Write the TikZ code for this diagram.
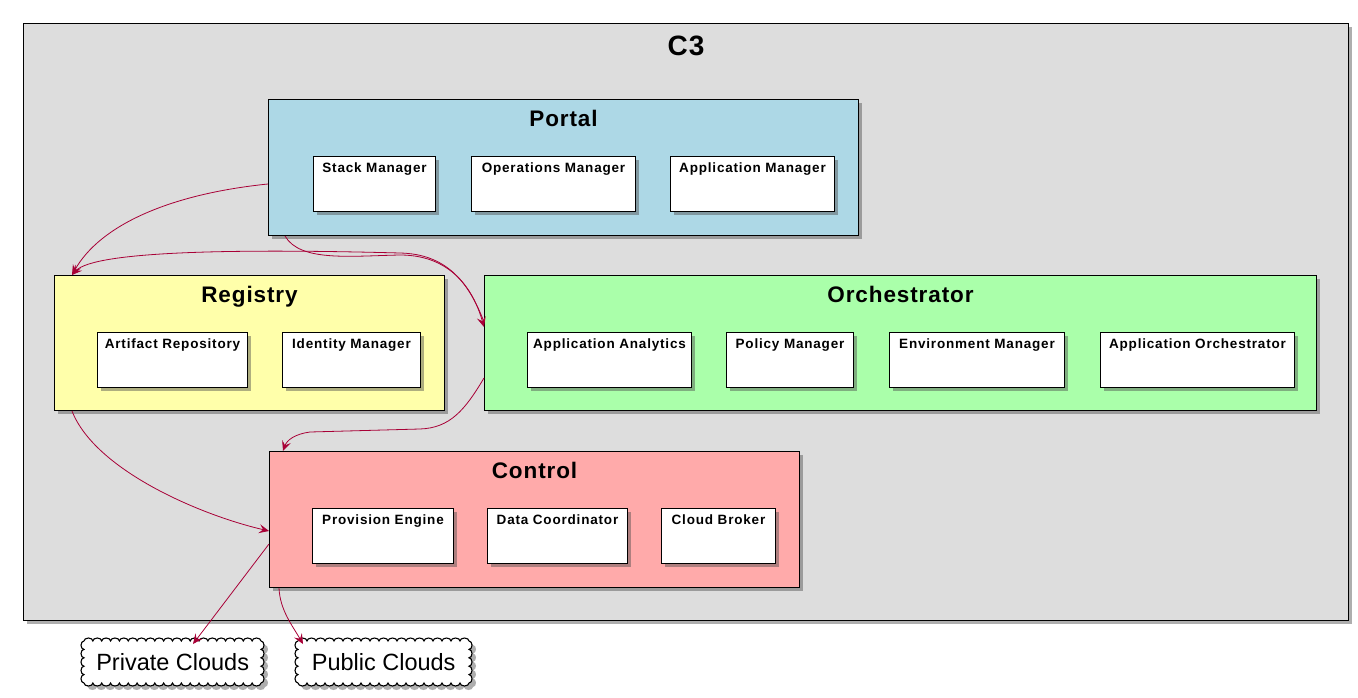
\documentclass[tikz,border=0pt]{standalone}
\usepackage{fontspec}
\setmainfont{Liberation Sans}
\newfontfamily\spacedfont[LetterSpace=6]{Liberation Sans}
\newfontfamily\titlefont[LetterSpace=4]{Liberation Sans}
\usetikzlibrary{shadows,arrows.meta,calc}
\definecolor{c3fill}{HTML}{DDDDDD}
\definecolor{portalfill}{HTML}{ADD8E6}
\definecolor{regfill}{HTML}{FFFFAA}
\definecolor{orchfill}{HTML}{AAFFAA}
\definecolor{ctrlfill}{HTML}{FFAAAA}
\definecolor{arrowred}{HTML}{A80036}
\newcommand\cloudoutline[4]{%
  \path[#4] (#1.north west)
    foreach \i in {1,...,#2}{ arc[start angle=180,end angle=0,x radius=#3,y radius=3pt] }
    foreach \i in {1,...,5}{ arc[start angle=90,end angle=-90,x radius=3pt,y radius=4.2pt] }
    foreach \i in {1,...,#2}{ arc[start angle=0,end angle=-180,x radius=#3,y radius=3pt] }
    foreach \i in {1,...,5}{ arc[start angle=-90,end angle=-270,x radius=3pt,y radius=4.2pt] } -- cycle;}
\begin{document}
\begin{tikzpicture}[x=1pt,y=-1pt,
  shad/.style={drop shadow={shadow xshift=3.5pt,shadow yshift=-3.5pt,fill=black!70,opacity=0.45}},
  pkg/.style={draw=black,line width=1pt,shad,anchor=north west,inner sep=0pt},
  comp/.style={draw=black,fill=white,line width=1pt,shad,anchor=north west,inner sep=0pt,minimum height=55pt,
    label={[anchor=north,yshift=-6.5pt,inner sep=0pt,font=\spacedfont\bfseries\fontsize{13.5}{15}\selectfont]north:#1}},
  pkgtitle/.style={anchor=north,inner sep=0pt,font=\titlefont\bfseries\fontsize{22.5}{26}\selectfont},
  cloudbox/.style={anchor=north west,inner sep=0pt},
  cloudtext/.style={inner sep=0pt,font=\fontsize{23.5}{28}\selectfont},
  cloudshadow/.style={fill=black!70,opacity=0.45,transform canvas={xshift=4pt,yshift=-4pt}},
  cloudline/.style={fill=white,draw=black,line width=1.1pt},
  conn/.style={draw=arrowred,line width=0.8pt,-{Stealth[length=10pt,width=9pt,inset=4pt]}},
]
\useasboundingbox (0,0) rectangle (1358,698);

% outer package
\node[pkg,fill=c3fill,minimum width=1325pt,minimum height=597pt] (c3) at (23,23) {};
\node[anchor=north,inner sep=0pt,font=\titlefont\bfseries\fontsize{28}{32}\selectfont] (c3t) at ([yshift=-13pt]c3.north) {C3};

% Portal
\node[pkg,fill=portalfill,minimum width=590pt,minimum height=136pt] (portal) at (268,99) {};
\node[pkgtitle] (portalt) at ([yshift=-10.5pt]portal.north) {Portal};
\node[comp=Stack Manager,minimum width=122pt] (stack) at (313,156) {};
\node[comp=Operations Manager,minimum width=164pt] (ops) at (471,156) {};
\node[comp=Application Manager,minimum width=164pt] (appm) at (670,156) {};

% Registry
\node[pkg,fill=regfill,minimum width=390pt,minimum height=135pt] (registry) at (54,275) {};
\node[pkgtitle] (registryt) at ([yshift=-10.5pt]registry.north) {Registry};
\node[comp=Artifact Repository,minimum width=150pt] (artifact) at (97,332) {};
\node[comp=Identity Manager,minimum width=138pt] (ident) at (282,332) {};

% Orchestrator
\node[pkg,fill=orchfill,minimum width=832pt,minimum height=135pt] (orch) at (484,275) {};
\node[pkgtitle] (orcht) at ([yshift=-10.5pt]orch.north) {Orchestrator};
\node[comp=Application Analytics,minimum width=164pt] (analytics) at (527,332) {};
\node[comp=Policy Manager,minimum width=127pt] (policy) at (726,332) {};
\node[comp=Environment Manager,minimum width=175pt] (env) at (889,332) {};
\node[comp=Application Orchestrator,minimum width=194pt] (apporch) at (1100,332) {};

% Control
\node[pkg,fill=ctrlfill,minimum width=530pt,minimum height=136pt] (control) at (269,451) {};
\node[pkgtitle] (controlt) at ([yshift=-10.5pt]control.north) {Control};
\node[comp=Provision Engine,minimum width=141pt] (prov) at (312,508) {};
\node[comp=Data Coordinator,minimum width=140pt] (data) at (487,508) {};
\node[comp=Cloud Broker,minimum width=114pt] (broker) at (661,508) {};

% clouds
\node[cloudbox,minimum width=177pt,minimum height=42pt] (private) at (84,641) {};
\node[cloudbox,minimum width=171pt,minimum height=42pt] (public) at (298,641) {};
\cloudoutline{private}{20}{4.425pt}{cloudshadow}
\cloudoutline{private}{20}{4.425pt}{cloudline}
\cloudoutline{public}{19}{4.5pt}{cloudshadow}
\cloudoutline{public}{19}{4.5pt}{cloudline}
\node[cloudtext] (privatet) at (private.center) {Private Clouds};
\node[cloudtext] (publict) at (public.center) {Public Clouds};

% connectors
\draw[conn] ([yshift=-85pt]portal.north west) .. controls (170,194) and (100,225) .. ([xshift=18pt]registry.north west);
\draw[conn] ([xshift=17pt]portal.south west) .. controls (300,262) and (350,256) .. (400,255)
   .. controls (455,255) and (475,295) .. ([yshift=-52pt]orch.north west);
\draw[conn] ([yshift=-47pt]orch.north west) .. controls (468,280) and (445,254) .. (400,253)
   .. controls (250,249) and (95,250) .. ([xshift=18pt]registry.north west);
\draw[conn] ([yshift=-103pt]orch.north west) .. controls (465,410) and (450,428) .. (420,429)
   -- (310,432) .. controls (295,434) and (287,440) .. ([xshift=14pt]control.north west);
\draw[conn] ([xshift=18pt]registry.south west) .. controls (95,470) and (200,515) .. ([yshift=-80pt]control.north west);
\draw[conn] ([yshift=-93pt]control.north west) -- ([xshift=109pt,yshift=-3pt]private.north west);
\draw[conn] ([xshift=10pt]control.south west) .. controls (280,610) and (292,625) .. ([xshift=5pt,yshift=-3pt]public.north west);
\end{tikzpicture}
\end{document}
